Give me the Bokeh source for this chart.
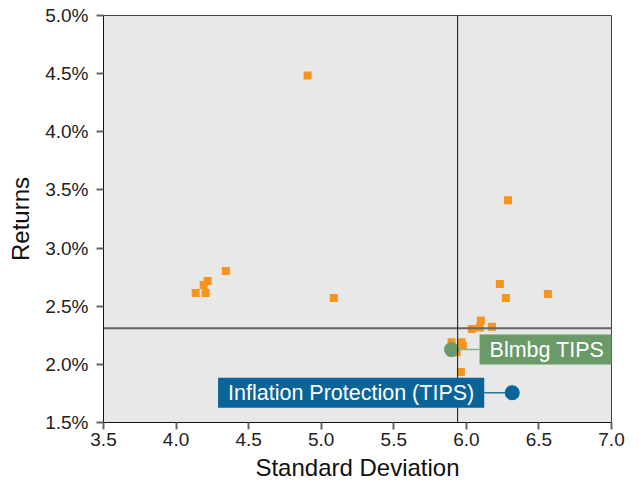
from bokeh.plotting import figure
from bokeh.models import Span, Label, PrintfTickFormatter, FixedTicker, Range1d
from bokeh.embed import file_html
from bokeh.resources import INLINE

# Peer universe (standard deviation, return %)
peer_sd = [4.906, 6.287, 4.343, 4.218, 4.190, 4.135, 4.204, 5.087, 6.231, 6.272,
           6.562, 6.100, 6.093, 6.038, 6.176, 5.898, 5.967, 5.976, 5.933, 5.962]
peer_ret = [4.485, 3.411, 2.802, 2.716, 2.682, 2.613, 2.613, 2.570, 2.690, 2.570,
            2.605, 2.378, 2.316, 2.304, 2.324, 2.190, 2.190, 2.161, 2.104, 1.935]

fund_name = "Inflation Protection (TIPS)"
fund_sd = [6.316]
fund_ret = [1.756]
bench_name = "Blmbg TIPS"
bench_sd = [5.898]
bench_ret = [2.127]

median_sd = 5.94
median_ret = 2.31

x_ticks = [3.5, 4.0, 4.5, 5.0, 5.5, 6.0, 6.5, 7.0]
y_ticks = [1.5, 2.0, 2.5, 3.0, 3.5, 4.0, 4.5, 5.0]

FONT = "Liberation Sans"
W, H = 639, 483
ML, MT, MR, MB = 103, 15, 28, 60
inner_w = W - ML - MR
px_per_x = inner_w / (x_ticks[-1] - x_ticks[0])

p = figure(width=W, height=H, output_backend="svg", toolbar_location=None,
           x_range=Range1d(x_ticks[0], x_ticks[-1]), y_range=Range1d(y_ticks[0], y_ticks[-1]),
           min_border_left=ML, min_border_top=MT, min_border_right=MR, min_border_bottom=MB,
           background_fill_color="#e8e8e8", border_fill_color="white")
p.xgrid.visible = False
p.ygrid.visible = False
p.outline_line_color = "#444444"
p.outline_line_width = 1

p.xaxis.ticker = FixedTicker(ticks=x_ticks)
p.yaxis.ticker = FixedTicker(ticks=y_ticks)
p.xaxis.formatter = PrintfTickFormatter(format="%.1f")
p.yaxis.formatter = PrintfTickFormatter(format="%.1f%%")
p.xaxis.axis_label = "Standard Deviation"
p.yaxis.axis_label = "Returns"
for ax in (p.xaxis[0], p.yaxis[0]):
    ax.axis_label_text_font = FONT
    ax.axis_label_text_font_style = "normal"
    ax.axis_label_text_font_size = "24px"
    ax.axis_label_text_color = "#111111"
    ax.major_label_text_font = FONT
    ax.major_label_text_font_size = "19px"
    ax.major_label_text_color = "#222222"
    ax.axis_line_color = "#111111"
    ax.major_tick_line_color = "#666666"
    ax.major_tick_line_width = 2
    ax.major_tick_out = 7
    ax.major_tick_in = 0
    ax.minor_tick_line_color = None
p.xaxis.axis_label_standoff = 5
p.yaxis.axis_label_standoff = 8
p.xaxis.major_label_standoff = 3
p.yaxis.major_label_standoff = 8

p.add_layout(Span(location=median_ret, dimension="width", line_color="#666666", line_width=2))
p.add_layout(Span(location=median_sd, dimension="height", line_color="#111111", line_width=1))

p.scatter(peer_sd, peer_ret, marker="square", size=8, fill_color="#f7941d", line_color=None)

# connectors
gap_px = 28
gap = gap_px / px_per_x
p.segment(x0=bench_sd, y0=bench_ret, x1=[bench_sd[0] + gap], y1=bench_ret,
          line_color="#8fb08d", line_width=1.5)
p.segment(x0=fund_sd, y0=fund_ret, x1=[fund_sd[0] - gap], y1=fund_ret,
          line_color="#2a74a3", line_width=1.5)

p.scatter(bench_sd, bench_ret, marker="circle", size=15, fill_color="#6a9a68", line_color=None)
p.scatter(fund_sd, fund_ret, marker="circle", size=15, fill_color="#0a6497", line_color=None)

p.add_layout(Label(x=bench_sd[0], y=bench_ret[0], x_offset=gap_px, text=bench_name,
                   text_font=FONT, text_font_size="21.5px", text_color="white",
                   text_baseline="middle", text_align="left",
                   background_fill_color="#6a9a68", padding=(10, 3)))
p.add_layout(Label(x=fund_sd[0], y=fund_ret[0], x_offset=-gap_px, text=fund_name,
                   text_font=FONT, text_font_size="21.5px", text_color="white",
                   text_baseline="middle", text_align="right",
                   background_fill_color="#0a6497", padding=(10, 3)))

open("out.html", "w").write(file_html(p, INLINE))
